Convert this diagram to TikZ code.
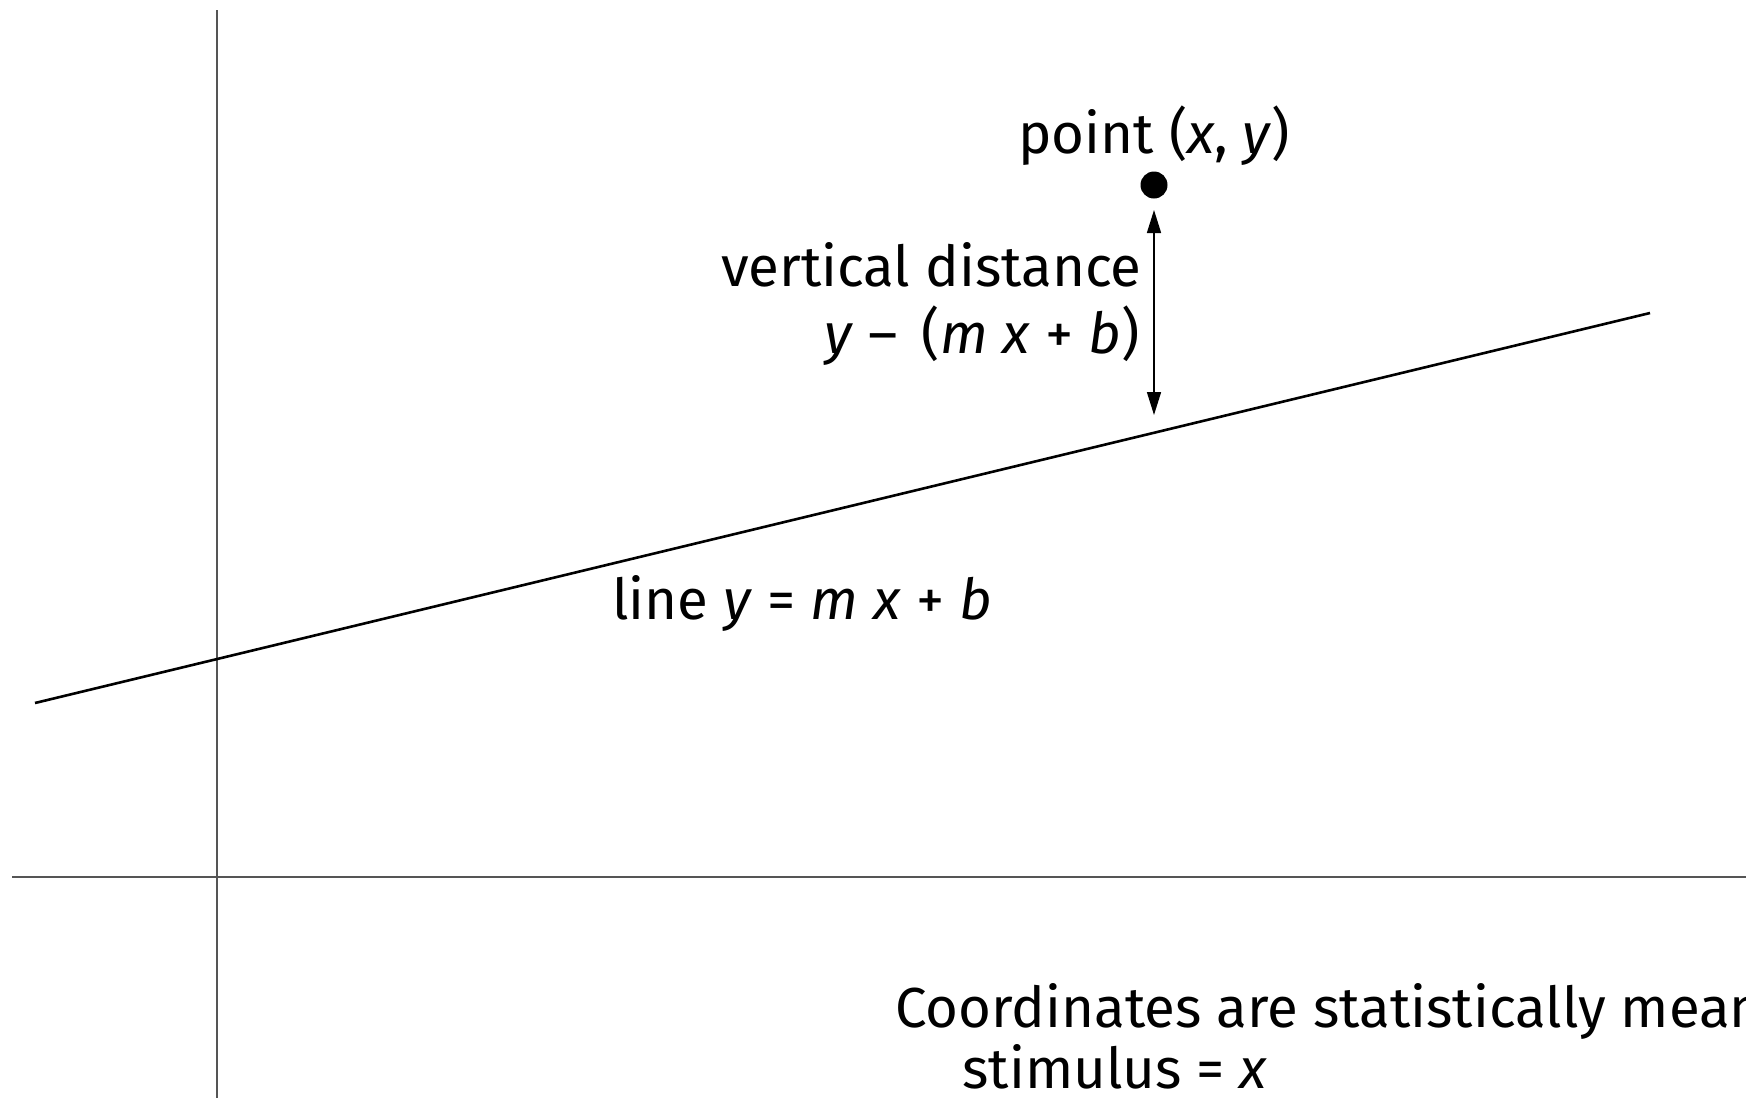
\documentclass[tikz,border=0pt]{standalone}
\usepackage{fontspec}
\setmainfont{Fira Sans}
\usetikzlibrary{arrows.meta}
\definecolor{axisgray}{RGB}{85,85,85}
\begin{document}
\begin{tikzpicture}[x=0.5pt,y=-0.5pt,
  axisline/.style={draw=axisgray,line width=1pt},
  fitline/.style={draw=black,line width=1.3pt},
  lbl/.style={inner sep=0pt,font=\fontsize{28.2}{34}\selectfont},
  dotpt/.style={circle,fill=black,inner sep=0pt,minimum size=13.5pt},
  distarrow/.style={draw=black,line width=0.75pt,{Triangle[length=11.5pt,width=7pt]}-{Triangle[length=11.5pt,width=7pt]}}]
\useasboundingbox (0,0) rectangle (1746,1098);
% axes
\coordinate (vtop) at (216.5,10);
\coordinate (vbot) at (216.5,1098);
\coordinate (hleft) at (12,876.5);
\coordinate (hright) at (1746,876.5);
\draw[axisline] (vtop) -- (vbot);
\draw[axisline] (hleft) -- (hright);
% fitted line
\coordinate (lstart) at (35,703);
\coordinate (lend) at (1650,313);
\draw[fitline] (lstart) -- (lend);
% point
\node[dotpt] (pt) at (1154,185) {};
\node[lbl,anchor=base west] (ptlabel) at (1018,153) {point (\textit{x}, \textit{y})};
% vertical distance arrow
\coordinate (atop) at (1154,210);
\coordinate (abot) at (1154,415);
\draw[distarrow] (atop) -- (abot);
\node[lbl,anchor=base east] (vd1) at (1142,286) {vertical distance};
\node[lbl,anchor=base east] (vd2) at (1140,353) {\textit{y} –\, (\textit{m} \textit{x} + \textit{b})};
% line label
\node[lbl,anchor=base west] (linelabel) at (612,619) {line \textit{y} = \textit{m} \textit{x} + \textit{b}};
% bottom note
\node[lbl,anchor=base west] (note1) at (895,1027) {Coordinates are statistically mean};
\node[lbl,anchor=base west] (note2) at (962,1088) {stimulus = \textit{x}};
\end{tikzpicture}
\end{document}
